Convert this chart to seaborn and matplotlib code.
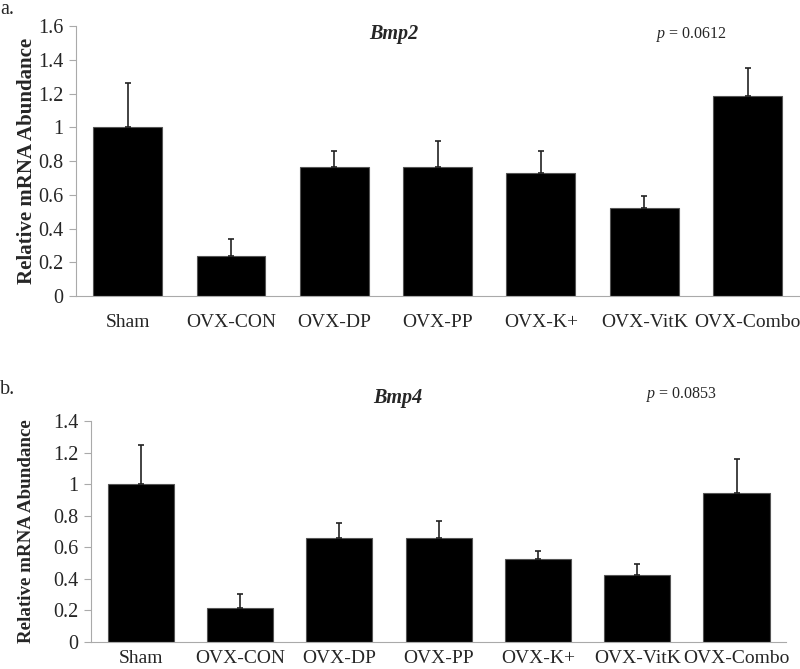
import numpy as np
import pandas as pd
import matplotlib
matplotlib.use("Agg")
import matplotlib.pyplot as plt
import seaborn as sns

groups = ["Sham", "OVX-CON", "OVX-DP", "OVX-PP", "OVX-K+", "OVX-VitK", "OVX-Combo"]

bmp2_mean = [1.00, 0.237, 0.763, 0.763, 0.731, 0.523, 1.185]
bmp2_err = [0.264, 0.099, 0.096, 0.154, 0.130, 0.071, 0.164]

bmp4_mean = [1.00, 0.218, 0.661, 0.659, 0.524, 0.422, 0.944]
bmp4_err = [0.246, 0.088, 0.093, 0.105, 0.050, 0.074, 0.217]

sns.set_style("white")
plt.rcParams["font.family"] = ["Liberation Serif", "DejaVu Serif"]
plt.rcParams["mathtext.fontset"] = "custom"
plt.rcParams["mathtext.it"] = "Liberation Serif:italic"
plt.rcParams["mathtext.rm"] = "Liberation Serif"

fig = plt.figure(figsize=(8, 6.69), dpi=100)
ax1 = fig.add_axes([0.095, 0.5575, 0.904, 0.4036])
ax2 = fig.add_axes([0.1138, 0.0404, 0.869, 0.3303])


def draw_panel(ax, means, errs, ymax, yticks, lab_size, xpad):
    df = pd.DataFrame({"group": groups, "value": means})
    sns.barplot(data=df, x="group", y="value", color="black", width=0.667,
                edgecolor="#555555", linewidth=0.8, saturation=1, ax=ax)
    ax.errorbar(np.arange(len(groups)), means, yerr=[np.zeros(len(errs)), errs],
                fmt="none", ecolor="#222222", elinewidth=1.2, capsize=2.5, capthick=1.2)
    ax.set_xlim(-0.5, len(groups) - 0.5)
    ax.set_ylim(0, ymax)
    ax.set_yticks(yticks)
    ax.set_yticklabels([("%g" % t) for t in yticks], fontsize=14.5)
    ax.set_xlabel("")
    ax.set_ylabel("Relative mRNA Abundance", fontsize=lab_size, fontweight="bold")
    ax.tick_params(axis="x", which="major", length=0, labelsize=14, pad=xpad)
    ax.set_xticks(np.arange(len(groups) + 1) - 0.5, minor=True)
    ax.tick_params(axis="x", which="minor", length=5, color="#aaaaaa", width=0.8)
    ax.tick_params(axis="y", which="major", length=5, color="#aaaaaa", width=0.8, left=True, pad=4)
    for s in ["top", "right"]:
        ax.spines[s].set_visible(False)
    for s in ["left", "bottom"]:
        ax.spines[s].set_color("#aaaaaa")
        ax.spines[s].set_linewidth(0.8)


draw_panel(ax1, bmp2_mean, bmp2_err, 1.6, [0, 0.2, 0.4, 0.6, 0.8, 1, 1.2, 1.4, 1.6], 15, 13)
draw_panel(ax2, bmp4_mean, bmp4_err, 1.4, [0, 0.2, 0.4, 0.6, 0.8, 1, 1.2, 1.4], 13.7, 6)
ax1.yaxis.set_label_coords(-0.054, 0.5)
ax2.yaxis.set_label_coords(-0.081, 0.5)

fig.text(394 / 800, 1 - 34 / 669, "Bmp2", fontsize=14.5, fontweight="bold", style="italic",
         ha="center", va="center")
fig.text(692 / 800, 1 - 34 / 669, "$\\mathit{p}$ = 0.0612", fontsize=11.5, ha="center", va="center")
fig.text(398 / 800, 1 - 398 / 669, "Bmp4", fontsize=14.5, fontweight="bold", style="italic",
         ha="center", va="center")
fig.text(682 / 800, 1 - 394 / 669, "$\\mathit{p}$ = 0.0853", fontsize=11.5, ha="center", va="center")
fig.text(0.0, 1 - 9 / 669, "a.", fontsize=14.5, ha="left", va="center")
fig.text(0.0, 1 - 389 / 669, "b.", fontsize=14.5, ha="left", va="center")

fig.savefig("out.png", dpi=100)
